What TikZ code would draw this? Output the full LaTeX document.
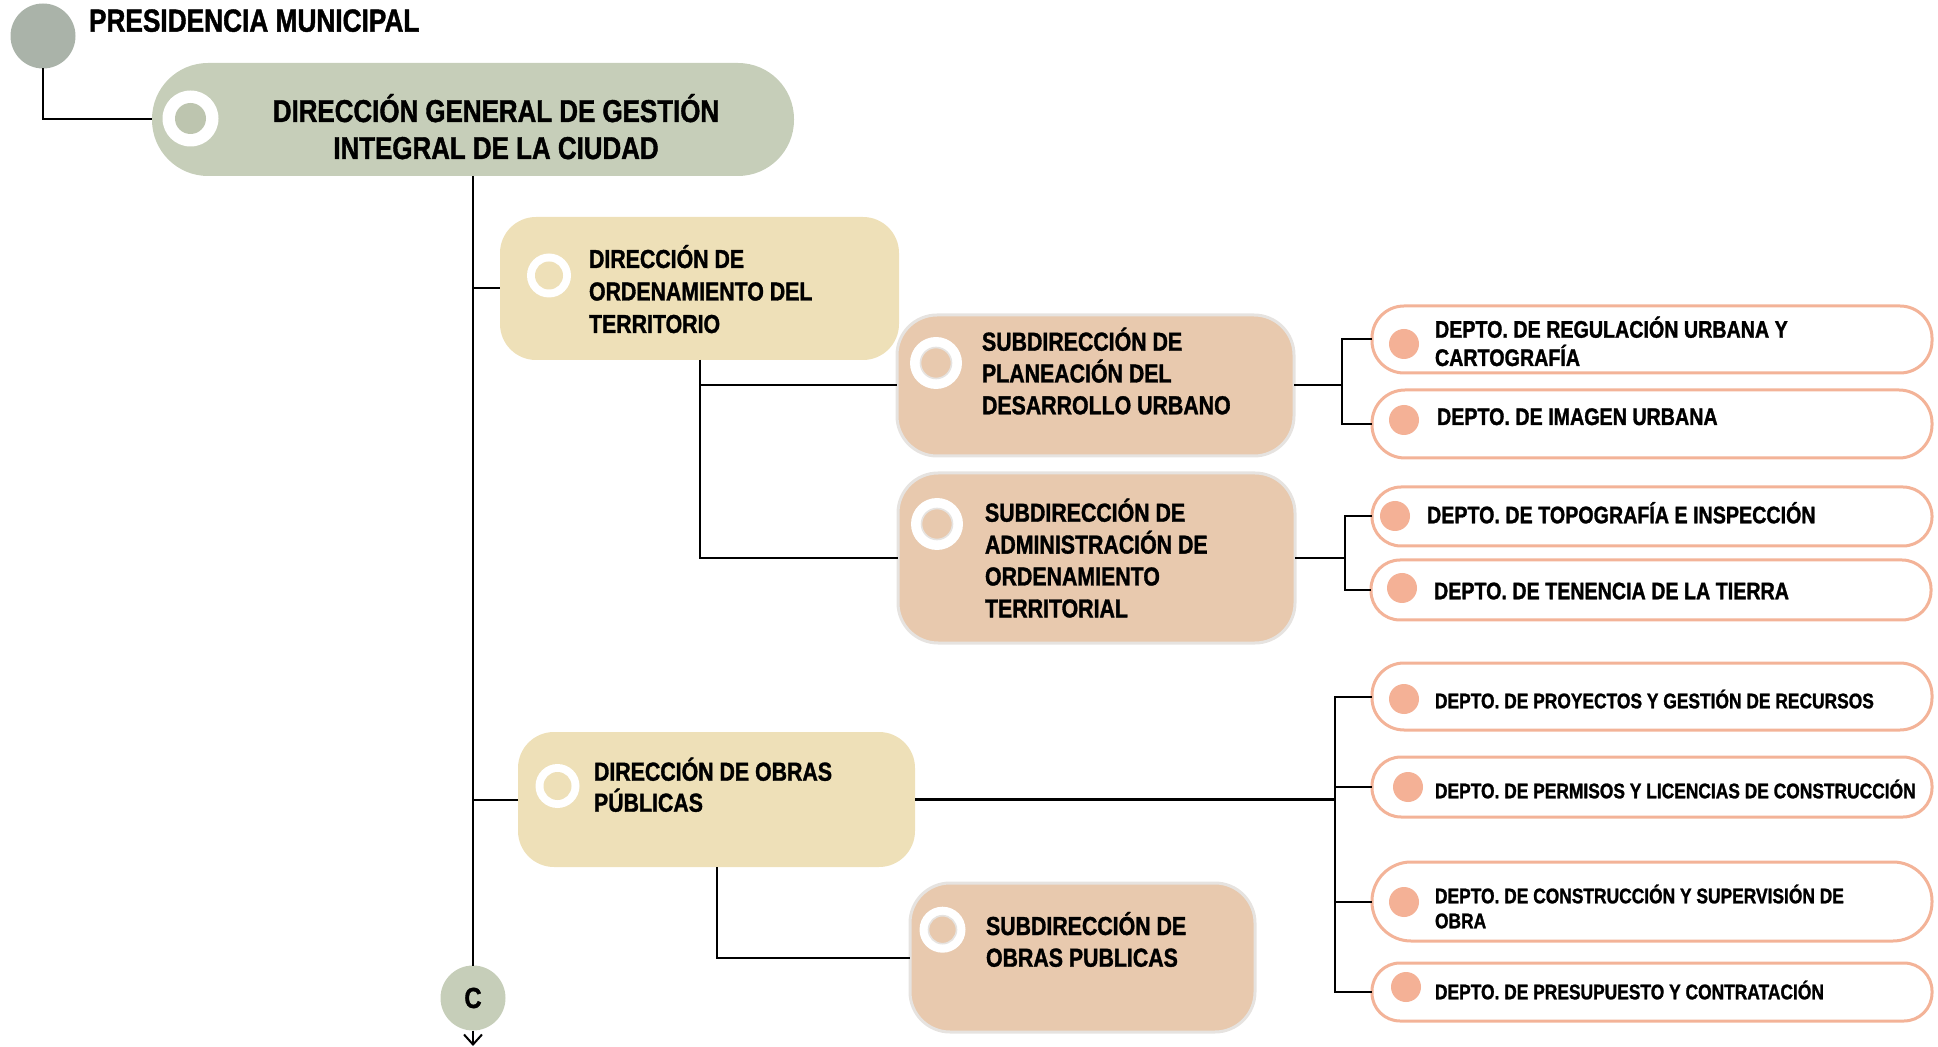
\documentclass[tikz,border=0pt]{standalone}
\usepackage{fontspec}
\setmainfont[FakeStretch=0.82, BoldFeatures={FakeBold=1.3}]{Liberation Sans}
\usetikzlibrary{arrows.meta}
\definecolor{presgray}{HTML}{AAB3A9}
\definecolor{dgcol}{HTML}{C6CEB9}
\definecolor{dgring}{HTML}{BDC5AF}
\definecolor{dircol}{HTML}{EEE0B8}
\definecolor{subcol}{HTML}{E8C9AE}
\definecolor{subedge}{HTML}{E6E3E0}
\definecolor{deptedge}{HTML}{F3B398}
\definecolor{deptdot}{HTML}{F4B196}
\newcommand\leftlines[2]{\vtop{\baselineskip=#1\lineskiplimit=0pt\lineskip=0pt\halign{##\hfil\cr#2\crcr}}}
\newcommand\ctrlines[2]{\vtop{\baselineskip=#1\lineskiplimit=0pt\lineskip=0pt\halign{\hfil##\hfil\cr#2\crcr}}}
\newcommand\fs[1]{\fontsize{#1}{#1}\bfseries\selectfont}
\begin{document}
\begin{tikzpicture}[x=0.5pt,y=-0.5pt,
  box/.style={rectangle, inner sep=0pt, outer sep=0pt},
  dgbox/.style={box, fill=dgcol},
  dirbox/.style={box, fill=dircol, rounded corners=18pt},
  subbox/.style={box, fill=subcol, draw=subedge, line width=1.5pt, rounded corners=20pt},
  deptbox/.style={box, fill=white, draw=deptedge, line width=1.5pt, minimum width=280pt},
  lbl/.style={inner sep=0pt, outer sep=0pt, anchor=base west, text=black},
  conn/.style={draw=black, line width=1pt},
  thickconn/.style={draw=black, line width=1.75pt},
  ringw/.style={fill=white},
  deptdotst/.style={fill=deptdot}]
\useasboundingbox (0,0) rectangle (1938,1047);

% ---- boxes ----
\node[circle, fill=presgray, minimum size=32.5pt, inner sep=0pt, outer sep=0pt] (pres) at (43,36) {};
\node[dgbox, minimum width=321pt, minimum height=56.5pt, rounded corners=28pt] (dg) at (473,119.5) {};
\node[dirbox, minimum width=199.5pt, minimum height=71.5pt] (ord) at (699.5,288.5) {};
\node[subbox, minimum width=198.5pt, minimum height=70.5pt] (subplan) at (1095.5,385.5) {};
\node[subbox, minimum width=198.5pt, minimum height=85pt] (subadmin) at (1096.5,558) {};
\node[dirbox, minimum width=198.5pt, minimum height=67.5pt] (obras) at (716.5,799.5) {};
\node[subbox, minimum width=172.5pt, minimum height=74.5pt] (subobras) at (1082.5,957.5) {};
\node[deptbox, minimum height=33.5pt, rounded corners=16pt] (d1) at (1652,339.5) {};
\node[deptbox, minimum height=34pt, rounded corners=16.5pt] (d2) at (1652,424) {};
\node[deptbox, minimum height=29.5pt, rounded corners=14.5pt] (d3) at (1652,516.5) {};
\node[deptbox, minimum height=30pt, rounded corners=14.5pt] (d4) at (1651,590) {};
\node[deptbox, minimum height=33.5pt, rounded corners=16pt] (d5) at (1652,696.5) {};
\node[deptbox, minimum height=30pt, rounded corners=14.5pt] (d6) at (1652,787) {};
\node[deptbox, minimum height=39.5pt, rounded corners=19.5pt] (d7) at (1652,901.5) {};
\node[deptbox, minimum height=29pt, rounded corners=14pt] (d8) at (1652,992) {};
\node[circle, fill=dgcol, minimum size=32.5pt, inner sep=0pt, outer sep=0pt, font=\fs{14.5pt}] (cc) at (473,998) {C};

% ---- icons ----
\fill[ringw] (190.5,118.5) circle[radius=14pt];
\fill[dgring] (190.5,118.5) circle[radius=7.75pt];
\fill[ringw] (549,275.5) circle[radius=11pt];
\fill[dircol] (549,275.5) circle[radius=7pt];
\fill[ringw] (936,363) circle[radius=13pt];
\filldraw[fill=subcol, draw=subedge, line width=0.8pt] (936,363) circle[radius=7.75pt];
\fill[ringw] (937,524) circle[radius=13pt];
\filldraw[fill=subcol, draw=subedge, line width=0.8pt] (937,524) circle[radius=7.75pt];
\fill[ringw] (557.5,786) circle[radius=11pt];
\fill[dircol] (557.5,786) circle[radius=7pt];
\fill[ringw] (942.5,929.7) circle[radius=11.5pt];
\filldraw[fill=subcol, draw=subedge, line width=0.8pt] (942.5,929.7) circle[radius=7pt];
\fill[deptdotst] (1404,344) circle[radius=7.5pt];
\fill[deptdotst] (1404,420) circle[radius=7.5pt];
\fill[deptdotst] (1395,516) circle[radius=7.5pt];
\fill[deptdotst] (1402,588) circle[radius=7.5pt];
\fill[deptdotst] (1404,699) circle[radius=7.5pt];
\fill[deptdotst] (1408,787) circle[radius=7.5pt];
\fill[deptdotst] (1404,902) circle[radius=7.5pt];
\fill[deptdotst] (1406,987) circle[radius=7.5pt];

% ---- texts ----
\node[lbl, font=\fs{16pt}] (prest) at (89,31.7) {PRESIDENCIA MUNICIPAL};
\node[lbl, anchor=base, font=\fs{15.8pt}] (dgt) at (496,122) {\ctrlines{18.5pt}{DIRECCIÓN GENERAL DE GESTIÓN\cr INTEGRAL DE LA CIUDAD}};
\node[lbl, font=\fs{13pt}] (ordt) at (589,268) {\leftlines{16.25pt}{DIRECCIÓN DE\cr ORDENAMIENTO DEL\cr TERRITORIO}};
\node[lbl, font=\fs{13pt}] (subplant) at (982,350.7) {\leftlines{15.9pt}{SUBDIRECCIÓN DE\cr PLANEACIÓN DEL\cr DESARROLLO URBANO}};
\node[lbl, font=\fs{13pt}] (subadmint) at (985,521.7) {\leftlines{15.95pt}{SUBDIRECCIÓN DE\cr ADMINISTRACIÓN DE\cr ORDENAMIENTO\cr TERRITORIAL}};
\node[lbl, font=\fs{13pt}] (obrast) at (594,780.7) {\leftlines{15.5pt}{DIRECCIÓN DE OBRAS\cr PÚBLICAS}};
\node[lbl, font=\fs{13pt}] (subobrast) at (986,935) {\leftlines{15.85pt}{SUBDIRECCIÓN DE\cr OBRAS PUBLICAS}};
\node[lbl, font=\fs{12pt}] (d1t) at (1435,337.7) {\leftlines{14.15pt}{DEPTO. DE REGULACIÓN URBANA Y\cr CARTOGRAFÍA}};
\node[lbl, font=\fs{12pt}] (d2t) at (1437,425) {DEPTO. DE IMAGEN URBANA};
\node[lbl, font=\fs{12pt}] (d3t) at (1427,523.3) {DEPTO. DE TOPOGRAFÍA E INSPECCIÓN};
\node[lbl, font=\fs{12pt}] (d4t) at (1434,599.3) {DEPTO. DE TENENCIA DE LA TIERRA};
\node[lbl, font=\fs{10.6pt}] (d5t) at (1435,708.3) {DEPTO. DE PROYECTOS Y GESTIÓN DE RECURSOS};
\node[lbl, font=\fs{10.6pt}] (d6t) at (1435,798.3) {DEPTO. DE PERMISOS Y LICENCIAS DE CONSTRUCCIÓN};
\node[lbl, font=\fs{10.6pt}] (d7t) at (1435,903.3) {\leftlines{12.5pt}{DEPTO. DE CONSTRUCCIÓN Y SUPERVISIÓN DE\cr OBRA}};
\node[lbl, font=\fs{10.6pt}] (d8t) at (1435,999.3) {DEPTO. DE PRESUPUESTO Y CONTRATACIÓN};

% ---- connectors ----
\coordinate (ja) at (1342,385.5);
\coordinate (jb) at (1345,558);
\coordinate (jc) at (1335,799.5);
\coordinate (cend) at (473,1046);
\draw[conn] (pres.south) |- (dg.west);
\draw[conn] (dg.south) -- (cc.north);
\draw[conn] (dg.south |- ord.west) -- (ord.west);
\draw[conn] (dg.south |- obras.west) -- (obras.west);
\draw[conn] (ord.south) |- (subplan.west);
\draw[conn] (ord.south) |- (subadmin.west);
\draw[conn] (subplan.east) -- (ja);
\draw[conn] (d1.west) -| (ja) |- (d2.west);
\draw[conn] (subadmin.east) -- (jb);
\draw[conn] (d3.west) -| (jb) |- (d4.west);
\draw[thickconn] (obras.east) -- (jc);
\draw[conn] (d5.west) -| (jc) |- (d8.west);
\draw[conn] (jc |- d6.west) -- (d6.west);
\draw[conn] (jc |- d7.west) -- (d7.west);
\draw[conn] (obras.south) |- (subobras.west);
\draw[conn, -{Straight Barb[length=5pt,width=9pt]}] (cc.south) -- (cend);
\end{tikzpicture}
\end{document}
